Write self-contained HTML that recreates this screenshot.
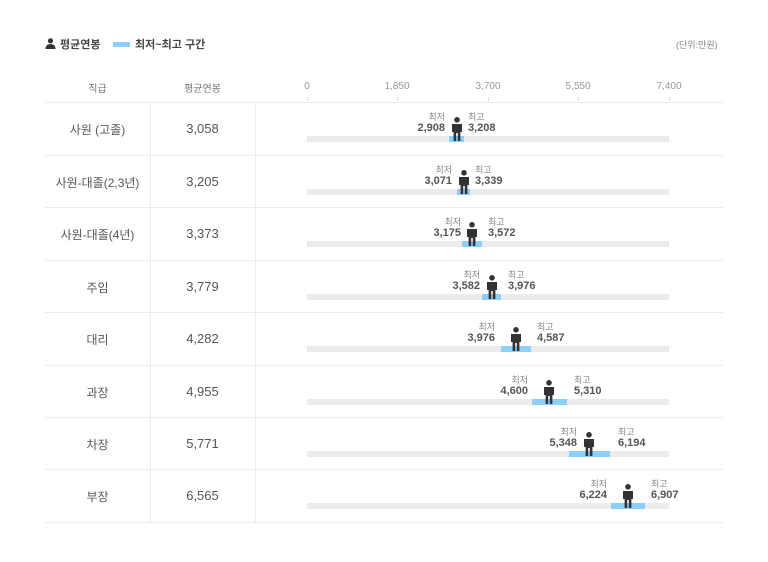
<!DOCTYPE html>
<html><head><meta charset="utf-8"><style>
*{margin:0;padding:0;box-sizing:border-box}
body{width:768px;height:562px;background:#fff;position:relative;overflow:hidden;font-family:"Liberation Sans","Noto Sans CJK KR",sans-serif;color:#555}
.a{position:absolute}
.hl{position:absolute;left:45px;width:678px;height:1px;background:#ececec}
.vl{position:absolute;width:1px;background:#ececec;top:103px;height:419px}
.c1{position:absolute;left:45px;width:105px;text-align:center;font-size:12px;color:#555}
.c2{position:absolute;left:150px;width:105px;text-align:center;font-size:13px;color:#555}
.tick{position:absolute;top:81px;font-size:10px;color:#999;transform:translateX(-50%)}
.tm{position:absolute;top:97px;width:1px;height:4px;background:#ddd}
.trk{position:absolute;left:307px;width:362px;height:6px;background:#ebebeb}
.rng{position:absolute;height:6px;background:#8ccff9}
.lb{position:absolute;font-size:9px;color:#888}
.vv{position:absolute;font-size:11px;font-weight:bold;color:#555}
.r{text-align:right;width:60px}
svg.p{position:absolute;width:12px;height:24px}
</style></head><body>
<svg class="a" style="left:45px;top:38px" width="11" height="11" viewBox="0 0 11 11"><circle cx="5.5" cy="2.8" r="2.6" fill="#333"/><path d="M0.5 11 Q0.5 6 5.5 6 Q10.5 6 10.5 11Z" fill="#333"/></svg>
<div class="a" style="left:60px;top:36px;font-size:11px;font-weight:bold;color:#444">평균연봉</div>
<div class="a" style="left:113px;top:42px;width:17px;height:5px;background:#8ccff9"></div>
<div class="a" style="left:135px;top:36px;font-size:11px;font-weight:bold;color:#444">최저~최고 구간</div>
<div class="a" style="left:676px;top:38px;font-size:9px;color:#888">(단위:만원)</div>

<div class="c1" style="top:80px;font-size:10px;color:#777">직급</div>
<div class="c2" style="top:80px;font-size:10px;color:#777">평균연봉</div>
<div class="tick" style="left:307px">0</div><div class="tm" style="left:307px"></div>
<div class="tick" style="left:397px">1,850</div><div class="tm" style="left:397px"></div>
<div class="tick" style="left:488px">3,700</div><div class="tm" style="left:488px"></div>
<div class="tick" style="left:578px">5,550</div><div class="tm" style="left:578px"></div>
<div class="tick" style="left:669px">7,400</div><div class="tm" style="left:669px"></div>

<div class="hl" style="top:102px"></div><div class="hl" style="top:155px"></div><div class="hl" style="top:207px"></div><div class="hl" style="top:260px"></div><div class="hl" style="top:312px"></div><div class="hl" style="top:365px"></div><div class="hl" style="top:417px"></div><div class="hl" style="top:469px"></div><div class="hl" style="top:522px"></div>
<div class="vl" style="left:150px"></div><div class="vl" style="left:255px"></div>

<!-- rows -->
<div class="c1" style="top:121px">사원 (고졸)</div><div class="c2" style="top:121px">3,058</div>
<div class="trk" style="top:136px"></div><div class="rng" style="top:136px;left:449px;width:15px"></div>
<svg class="p" style="left:451px;top:117px" viewBox="0 0 12 24"><circle cx="6" cy="2.8" r="2.8" fill="#333"/><path d="M1 7h10v8h-1.6v9h-2.6v-8h-1.6v8H2.6v-9H1z" fill="#333"/></svg>
<div class="lb r" style="top:110px;left:385px">최저</div><div class="vv r" style="top:122px;left:385px">2,908</div>
<div class="lb" style="top:110px;left:468px">최고</div><div class="vv" style="top:122px;left:468px">3,208</div>

<div class="c1" style="top:174px">사원-대졸(2,3년)</div><div class="c2" style="top:174px">3,205</div>
<div class="trk" style="top:189px"></div><div class="rng" style="top:189px;left:457px;width:13px"></div>
<svg class="p" style="left:458px;top:170px" viewBox="0 0 12 24"><circle cx="6" cy="2.8" r="2.8" fill="#333"/><path d="M1 7h10v8h-1.6v9h-2.6v-8h-1.6v8H2.6v-9H1z" fill="#333"/></svg>
<div class="lb r" style="top:163px;left:392px">최저</div><div class="vv r" style="top:175px;left:392px">3,071</div>
<div class="lb" style="top:163px;left:475px">최고</div><div class="vv" style="top:175px;left:475px">3,339</div>

<div class="c1" style="top:226px">사원-대졸(4년)</div><div class="c2" style="top:226px">3,373</div>
<div class="trk" style="top:241px"></div><div class="rng" style="top:241px;left:462px;width:20px"></div>
<svg class="p" style="left:466px;top:222px" viewBox="0 0 12 24"><circle cx="6" cy="2.8" r="2.8" fill="#333"/><path d="M1 7h10v8h-1.6v9h-2.6v-8h-1.6v8H2.6v-9H1z" fill="#333"/></svg>
<div class="lb r" style="top:215px;left:401px">최저</div><div class="vv r" style="top:227px;left:401px">3,175</div>
<div class="lb" style="top:215px;left:488px">최고</div><div class="vv" style="top:227px;left:488px">3,572</div>

<div class="c1" style="top:279px">주임</div><div class="c2" style="top:279px">3,779</div>
<div class="trk" style="top:294px"></div><div class="rng" style="top:294px;left:482px;width:19px"></div>
<svg class="p" style="left:486px;top:275px" viewBox="0 0 12 24"><circle cx="6" cy="2.8" r="2.8" fill="#333"/><path d="M1 7h10v8h-1.6v9h-2.6v-8h-1.6v8H2.6v-9H1z" fill="#333"/></svg>
<div class="lb r" style="top:268px;left:420px">최저</div><div class="vv r" style="top:280px;left:420px">3,582</div>
<div class="lb" style="top:268px;left:508px">최고</div><div class="vv" style="top:280px;left:508px">3,976</div>

<div class="c1" style="top:331px">대리</div><div class="c2" style="top:331px">4,282</div>
<div class="trk" style="top:346px"></div><div class="rng" style="top:346px;left:501px;width:30px"></div>
<svg class="p" style="left:510px;top:327px" viewBox="0 0 12 24"><circle cx="6" cy="2.8" r="2.8" fill="#333"/><path d="M1 7h10v8h-1.6v9h-2.6v-8h-1.6v8H2.6v-9H1z" fill="#333"/></svg>
<div class="lb r" style="top:320px;left:435px">최저</div><div class="vv r" style="top:332px;left:435px">3,976</div>
<div class="lb" style="top:320px;left:537px">최고</div><div class="vv" style="top:332px;left:537px">4,587</div>

<div class="c1" style="top:384px">과장</div><div class="c2" style="top:384px">4,955</div>
<div class="trk" style="top:399px"></div><div class="rng" style="top:399px;left:532px;width:35px"></div>
<svg class="p" style="left:543px;top:380px" viewBox="0 0 12 24"><circle cx="6" cy="2.8" r="2.8" fill="#333"/><path d="M1 7h10v8h-1.6v9h-2.6v-8h-1.6v8H2.6v-9H1z" fill="#333"/></svg>
<div class="lb r" style="top:373px;left:468px">최저</div><div class="vv r" style="top:385px;left:468px">4,600</div>
<div class="lb" style="top:373px;left:574px">최고</div><div class="vv" style="top:385px;left:574px">5,310</div>

<div class="c1" style="top:436px">차장</div><div class="c2" style="top:436px">5,771</div>
<div class="trk" style="top:451px"></div><div class="rng" style="top:451px;left:569px;width:41px"></div>
<svg class="p" style="left:583px;top:432px" viewBox="0 0 12 24"><circle cx="6" cy="2.8" r="2.8" fill="#333"/><path d="M1 7h10v8h-1.6v9h-2.6v-8h-1.6v8H2.6v-9H1z" fill="#333"/></svg>
<div class="lb r" style="top:425px;left:517px">최저</div><div class="vv r" style="top:437px;left:517px">5,348</div>
<div class="lb" style="top:425px;left:618px">최고</div><div class="vv" style="top:437px;left:618px">6,194</div>

<div class="c1" style="top:488px">부장</div><div class="c2" style="top:488px">6,565</div>
<div class="trk" style="top:503px"></div><div class="rng" style="top:503px;left:611px;width:34px"></div>
<svg class="p" style="left:622px;top:484px" viewBox="0 0 12 24"><circle cx="6" cy="2.8" r="2.8" fill="#333"/><path d="M1 7h10v8h-1.6v9h-2.6v-8h-1.6v8H2.6v-9H1z" fill="#333"/></svg>
<div class="lb r" style="top:477px;left:547px">최저</div><div class="vv r" style="top:489px;left:547px">6,224</div>
<div class="lb" style="top:477px;left:651px">최고</div><div class="vv" style="top:489px;left:651px">6,907</div>
</body></html>
